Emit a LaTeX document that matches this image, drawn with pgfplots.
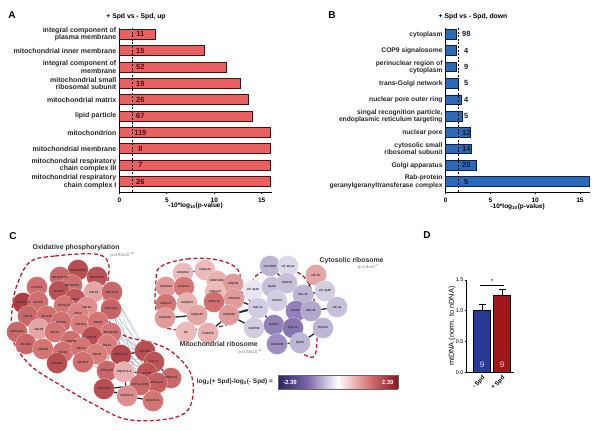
\documentclass[border=0pt]{standalone}
\usepackage{fontspec}
\setmainfont{Liberation Sans}
\usepackage{pgfplots}
\pgfplotsset{compat=1.18}
\usepackage{pgfplotstable}

\definecolor{redA}{RGB}{232,96,96}
\definecolor{edgeA}{RGB}{60,20,20}
\definecolor{numA}{RGB}{80,12,12}
\definecolor{blueB}{RGB}{42,106,184}
\definecolor{edgeB}{RGB}{14,32,60}
\definecolor{numB}{RGB}{20,25,45}
\definecolor{dBlue}{RGB}{40,58,148}
\definecolor{dRed}{RGB}{160,24,28}
\definecolor{cred}{RGB}{185,30,45}
\definecolor{fan}{RGB}{150,170,190}
\definecolor{navy}{RGB}{30,42,62}

\newcommand\labA{\fontsize{7}{7.3}\selectfont\bfseries}
\newcommand\labB{\fontsize{6.7}{7.3}\selectfont\bfseries}
\newcommand\tck{\fontsize{6.5}{7}\selectfont\bfseries}
\newcommand\num{\fontsize{7.5}{8}\selectfont\bfseries}
\newcommand\ttl{\fontsize{6.8}{8}\selectfont\bfseries}
\newcommand\pnl{\fontsize{10}{12}\selectfont\bfseries}

\pgfplotsset{colormap={net}{rgb255(0cm)=(45,35,95); rgb255(1cm)=(125,105,170); rgb255(2cm)=(255,255,255); rgb255(3cm)=(215,120,120); rgb255(4cm)=(140,20,30)}}

\pgfplotstableread{
x y v lab
78 270 1.7 ND-B14.5B
60 277 1.4 ND-B14.5A
97 277 1.65 ND-PDSW
37 287 1.3 CG7518
72 285 1.3 ND-SGDH
59 291 1.65 ND-B17
94 292 0.8 ND-19
112 292 1.4 ND-ACP
75 299 1.6 COX4
23 303 1.9 UQCR-C2
38 302 1.3 ND-B8
64 306 1.25 ATPsynf
87 307 1.0 ND-30
111 309 1.45 ATPsynG
28 316 1.4 ND-75
47 316 1.3 ND-13A
78 313 1.1 SdhC
61 322 1.3 COX5A
81 324 1.15 ND-B11
98 322 1.25 ND-20
17 332 1.4 ATPsynD
39 329 0.8 ND-49
55 332 1.25 ND-51
111 333 1.25 ND-MLRQ
71 341 1.3 COX5B
92 337 1.7 ND-42
107 345 1.15 ND-24
26 344 1.4 ND-B14
43 349 1.25 COX6B
63 352 1.3 ND-23
81 348 1.25 ND-18
97 354 1.15 ND-39
57 363 1.7 ND-B22
83 362 1.3 ND-B12
121 355 1.8 ATPsynB
145 351 1.7 ND-B15
154 362 1.65 Cyt-c1
107 371 1.4 ATPsynC
124 372 0.7 UQCR-6.4
147 373 1.65 CoVIII
171 378 1.4 UQCR-Q
157 383 1.5 ATPsynd
140 385 1.4 ATPsynCF6
104 389 1.7 ATPsynE
127 396 1.0 UQCR-14
153 401 1.25 UQCR-C1
183 273 0.6 mRpS31
205 270 0.6 mRpL23
217 281 0.7 mRpS18C
233 284 0.9 mRpS9
166 287 0.9 mRpS22
184 287 1.2 mRpS17
215 292 0.6 mRpL43
234 299 0.9 mRpS16
166 304 1.25 mRpL37
187 303 0.7 mRpS23
214 302 1.3 mRpL12
165 318 0.9 mRpS10
197 315 0.8 mRpL46
229 315 0.9 mRpS26
186 332 0.6 tko
208 333 0.7 CG4679
270 266 -0.6 CG15697
288 266 -0.3 eIF-2beta
316 275 0.8 eIF-5A
253 290 -0.2 eIF-3p40
272 287 -0.5 RpS9
287 283 -0.5 RpS18
303 295 -0.6 RpL35
325 291 -0.4 eIF-3p66
277 301 -0.4 RpS24
258 308 -0.4 RpL13
296 311 -1.0 RpS27
311 311 -0.7 RpL30
337 307 -0.5 eIF-4a
254 328 -0.4 CG9791
274 325 -1.0 RpS5a
293 328 -1.1 RpL31
323 328 -0.6 RpS12
277 344 -0.9 CG18596
300 343 -0.6 RpS8
}\netnodes

\begin{document}
\begin{tikzpicture}
\useasboundingbox (0pt,0pt) rectangle (600pt,431pt);

% ---------------- Panel A ----------------
\begin{axis}[
  at={(119.5pt,239pt)}, anchor=south west,
  scale only axis, width=152.6pt, height=164pt,
  xmin=0, xmax=16.1, ymin=0.615, ymax=10.63, y dir=reverse,
  axis x line*=bottom, axis y line*=left,
  axis line style={line width=0.9pt,-},
  xtick={0,5,10,15}, tick align=outside, major tick length=2.5pt,
  x tick style={line width=0.8pt,black},
  ytick={1,...,10}, y tick style={draw=none},
  yticklabels={{integral component of\\plasma membrane},{mitochondrial inner membrane},{integral component of\\membrane},{mitochondrial small\\ribosomal subunit},{mitochondrial matrix},{lipid particle},{mitochondrion},{mitochondrial membrane},{mitochondrial respiratory\\chain complex III},{mitochondrial respiratory\\chain complex I}},
  yticklabel style={align=right, font=\labA, text=black!85, inner sep=0.5pt},
  xticklabel style={font=\tck},
  /pgf/number format/assume math mode=true,
  clip=false,
]
\addplot[xbar, bar shift=0pt, bar width=10pt, fill=redA, draw=edgeA, line width=0.9pt]
  coordinates {(3.8,1) (8.95,2) (11.3,3) (12.8,4) (13.6,5) (14.05,6) (15.95,7) (15.95,8) (15.95,9) (15.95,10)};
\addplot[black, line width=0.6pt, dash pattern=on 2pt off 1.6pt] coordinates {(1.35,0.615) (1.35,10.63)};
\foreach \v/\n in {1/11,2/15,3/52,4/19,5/26,6/67,7/119,8/8,9/7,10/26}{
  \edef\tmp{\noexpand\node[font=\noexpand\num, text=numA] at (axis cs:2.2,\v) {\n};}\tmp
}
\end{axis}

% ---------------- Panel B ----------------
\begin{axis}[
  at={(445.7pt,239pt)}, anchor=south west,
  scale only axis, width=144.1pt, height=164pt,
  xmin=0, xmax=16.1, ymin=0.615, ymax=10.63, y dir=reverse,
  axis x line*=bottom, axis y line*=left,
  axis line style={line width=0.9pt,-},
  xtick={0,5,10,15}, tick align=outside, major tick length=2.5pt,
  x tick style={line width=0.8pt,black},
  ytick={1,...,10}, y tick style={draw=none},
  yticklabels={{cytoplasm},{COP9 signalosome},{perinuclear region of\\cytoplasm},{trans-Golgi network},{nuclear pore outer ring},{singal recognition particle,\\endoplasmic reticulum targeting},{nuclear pore},{cytosolic small\\ribosomal subunit},{Golgi apparatus},{Rab-protein\\geranylgeranyltransferase complex}},
  yticklabel style={align=right, font=\labB, text=black!85, inner sep=0.5pt},
  xticklabel style={font=\tck},
  /pgf/number format/assume math mode=true,
  clip=false,
]
\addplot[xbar, bar shift=0pt, bar width=9.7pt, fill=blueB, draw=edgeB, line width=0.9pt]
  coordinates {(1.2,1) (1.2,2) (1.2,3) (1.45,4) (1.75,5) (1.85,6) (2.8,7) (2.85,8) (3.45,9) (16.05,10)};
\addplot[black, line width=0.6pt, dash pattern=on 2pt off 1.6pt] coordinates {(1.4,0.615) (1.4,10.63)};
\foreach \v/\n in {1/98,2/4,3/9,4/5,5/4,6/5,7/12,8/14,9/20,10/5}{
  \edef\tmp{\noexpand\node[font=\noexpand\num, text=numB] at (axis cs:2.3,\v) {\n};}\tmp
}
\end{axis}

% ---------------- Panel C (network) ----------------
\begin{axis}[
  at={(0pt,6pt)}, anchor=south west,
  scale only axis, width=400pt, height=200pt,
  xmin=0, xmax=400, ymin=225, ymax=425, y dir=reverse,
  hide axis, clip=false,
  colormap name=net, point meta min=-2.39, point meta max=2.39,
  unbounded coords=jump,
]
% light fan edges
\addplot[fan, line width=0.25pt] coordinates {
(112,292)(121,355)(111,309)(154,362)(112,292)(124,372)(98,322)(145,351)(111,333)(107,371)(92,337)(147,373)(111,309)(140,385)(107,345)(121,355)(97,354)(154,362)(83,362)(124,372)(111,333)(140,385)(112,292)(145,351)(98,322)(107,371)(107,345)(147,373)(97,354)(121,355)(92,337)(154,362)(111,309)(124,372)(83,362)(140,385)(98,322)(147,373)(111,333)(121,355)(107,345)(145,351)(97,354)(107,371)(83,362)(147,373)(92,337)(140,385)(112,292)(107,371)(111,309)(147,373)(98,322)(124,372)(92,337)(121,355)(83,362)(145,351)(107,345)(124,372)(97,354)(140,385)(111,333)(154,362)(112,292)(147,373)
};
% dark edges
\addplot[navy, line width=1.3pt] coordinates {
(121,355)(145,351)(154,362)(147,373)(124,372)(121,355) (nan,nan)
(107,371)(124,372)(140,385)(157,383)(171,378)(147,373)(145,351) (nan,nan)
(104,389)(127,396)(153,401)(140,385)(104,389)(107,371)(121,355) (nan,nan)
(154,362)(171,378) (nan,nan) (124,372)(127,396) (nan,nan)
(78,270)(97,277) (nan,nan) (60,277)(59,291)(72,285)(75,299)(94,292) (nan,nan) (64,306)(47,316) (nan,nan) (55,332)(61,322) (nan,nan) (71,341)(81,348) (nan,nan) (57,363)(63,352) (nan,nan) (83,362)(97,354) (nan,nan) (92,337)(98,322) (nan,nan)
(183,273)(205,270) (nan,nan) (184,287)(166,287) (nan,nan) (166,304)(187,303)(197,315)(166,318) (nan,nan) (214,302)(197,315)(186,332) (nan,nan) (215,292)(233,284) (nan,nan) (214,302)(234,299) (nan,nan) (208,333)(229,315) (nan,nan) (187,303)(184,287) (nan,nan) (217,281)(215,292) (nan,nan)
(253,290)(234,299)(258,308)(229,315)(254,328) (nan,nan) (233,284)(253,290) (nan,nan) (234,299)(272,287) (nan,nan) (229,315)(277,301) (nan,nan) (233,284)(258,308) (nan,nan)
(270,266)(287,283)(272,287) (nan,nan) (287,283)(303,295)(325,291) (nan,nan) (277,301)(296,311)(311,311)(323,328)(300,343)(277,344) (nan,nan) (274,325)(293,328)(300,343) (nan,nan) (311,311)(337,307) (nan,nan) (258,308)(274,325) (nan,nan) (296,311)(293,328) (nan,nan) (288,266)(287,283) (nan,nan) (316,275)(303,295)
};
% nodes
\addplot[scatter, only marks, mark=*, mark size=10.5pt,
  point meta=\thisrow{v},
  scatter/use mapped color={draw=white, draw opacity=0.6, fill=mapped color, line width=0.3pt},
] table[x=x, y=y] {\netnodes};
% node labels
\addplot[only marks, mark=none, point meta=explicit symbolic,
  nodes near coords,
  nodes near coords style={anchor=center, inner sep=0pt, font=\fontsize{3}{3}\selectfont\bfseries, text=black!80},
] table[x=x, y=y, meta=lab] {\netnodes};
% cluster outlines
\draw[cred, line width=1.3pt, dash pattern=on 4pt off 2.5pt] plot[smooth cycle, tension=0.6] coordinates {(30,262) (55,256) (95,254) (108,262) (108,280) (104,300) (108,320) (125,336) (150,342) (172,352) (190,372) (193,395) (185,413) (160,420) (125,419) (95,405) (60,385) (30,365) (13,340) (12,310) (17,285)};
\draw[cred, line width=1.3pt, dash pattern=on 4pt off 2.5pt] plot[smooth cycle, tension=0.6] coordinates {(160,267) (187,259) (218,260) (238,270) (240,290) (236,310) (228,324) (200,329) (167,328) (156,310) (156,282)};
\draw[cred, line width=1.3pt, dash pattern=on 4pt off 2.5pt] plot[smooth cycle, tension=0.6] coordinates {(262,272) (285,268) (305,278) (314,300) (317,330) (315,355) (305,355) (290,343) (270,332) (255,322) (250,300) (252,282)};
\end{axis}

% colour bar
\begin{axis}[
  at={(278pt,42pt)}, anchor=south west,
  scale only axis, width=120pt, height=14pt,
  xmin=-2.39, xmax=2.39, ymin=0, ymax=1, view={0}{90},
  xtick=\empty, ytick=\empty, ztick=\empty,
  axis line style={line width=0.4pt, black!60},
  colormap name=net, point meta min=-2.39, point meta max=2.39,
]
\addplot3[surf, shader=interp, point meta=x] coordinates {
(-2.39,0,0) (-1.8,0,0) (-1.2,0,0) (-0.6,0,0) (0,0,0) (0.6,0,0) (1.2,0,0) (1.8,0,0) (2.39,0,0)

(-2.39,1,0) (-1.8,1,0) (-1.2,1,0) (-0.6,1,0) (0,1,0) (0.6,1,0) (1.2,1,0) (1.8,1,0) (2.39,1,0)
};
\end{axis}
\node[anchor=west, text=white, font=\fontsize{6}{7}\selectfont\bfseries] at (279.5pt,49pt) {-2.39};
\node[anchor=east, text=white, font=\fontsize{6}{7}\selectfont\bfseries] at (397pt,49pt) {2.39};
\node[anchor=east, font=\fontsize{6.5}{7}\selectfont\bfseries, text=black!85] at (276.5pt,49pt) {log\textsubscript{2}(+ Spd)-log\textsubscript{2}(- Spd) =};

% ---------------- Panel D ----------------
\begin{axis}[
  at={(466.7pt,58.7pt)}, anchor=south west,
  scale only axis, width=47.3pt, height=92.3pt,
  ymin=0, ymax=1.5, xmin=-0.765, xmax=1.6,
  axis x line*=bottom, axis y line*=left,
  axis line style={line width=0.8pt,-},
  ytick={0,0.5,1,1.5}, yticklabels={0.0,0.5,1.0,1.5},
  tick align=outside, major tick length=2pt,
  y tick style={line width=0.6pt, black},
  xtick={0,1}, xticklabels={-\kern1.6pt Spd,+\kern1.6pt Spd}, x tick style={draw=none},
  xticklabel style={rotate=45, anchor=north east, font=\fontsize{6}{7}\selectfont\bfseries, inner sep=0.5pt},
  yticklabel style={font=\fontsize{5.5}{6}\selectfont, inner sep=1pt},
  ylabel={mtDNA (norm. to nDNA)},
  ylabel style={font=\fontsize{7.3}{8}\selectfont, yshift=-4pt},
  clip=false,
]
\addplot[ybar, bar shift=0pt, bar width=17pt, fill=dBlue, draw=black, line width=0.6pt,
  error bars/.cd, y dir=plus, y explicit,
  error bar style={line width=0.8pt, black},
  error mark options={rotate=90, mark size=3.5pt, line width=0.8pt, black}]
  coordinates {(0,1.0) +- (0,0.1)};
\addplot[ybar, bar shift=0pt, bar width=17pt, fill=dRed, draw=black, line width=0.6pt,
  error bars/.cd, y dir=plus, y explicit,
  error bar style={line width=0.8pt, black},
  error mark options={rotate=90, mark size=3.5pt, line width=0.8pt, black}]
  coordinates {(1,1.25) +- (0,0.1)};
\addplot[black, line width=0.6pt] coordinates {(-0.1,1.42) (1.1,1.42)};
\node[font=\fontsize{6}{6}\selectfont] at (axis cs:0.5,1.47) {*};
\node[font=\fontsize{8}{9}\selectfont, text=blue!15] at (axis cs:0,0.13) {9};
\node[font=\fontsize{8}{9}\selectfont, text=red!15] at (axis cs:1,0.13) {9};
\end{axis}

% ---------------- Titles and texts ----------------
\node[font=\pnl] at (12pt,416pt) {A};
\node[font=\pnl] at (332pt,416pt) {B};
\node[font=\pnl] at (13pt,195.3pt) {C};
\node[font=\pnl] at (427pt,196pt) {D};
\node[font=\ttl] at (136pt,414pt) {+ Spd vs - Spd, up};
\node[font=\ttl] at (473pt,414pt) {+ Spd vs - Spd, down};
\node[font=\tck] at (195.6pt,225.5pt) {-10*log\textsubscript{10}(p-value)};
\node[font=\tck] at (517.7pt,224.5pt) {-10*log\textsubscript{10}(p-value)};

\node[anchor=west, font=\fontsize{6.9}{8}\selectfont\bfseries, text=black!80] at (29pt,183.5pt) {Oxidative phosphorylation};
\node[anchor=west, font=\fontsize{4}{5}\selectfont, text=black!55] at (107pt,176pt) {p=3.83x10\textsuperscript{−36}};
\node[anchor=west, font=\fontsize{6.9}{8}\selectfont\bfseries, text=black!80] at (176pt,86.7pt) {Mitochondrial ribosome};
\node[anchor=west, font=\fontsize{4}{5}\selectfont, text=black!55] at (235pt,79pt) {p=3.58x10\textsuperscript{−11}};
\node[anchor=west, font=\fontsize{6.9}{8}\selectfont\bfseries, text=black!80] at (316pt,170.3pt) {Cytosolic ribosome};
\node[anchor=east, font=\fontsize{4}{5}\selectfont, text=black!55] at (382pt,164pt) {p=1.9x10\textsuperscript{−5}};
\end{tikzpicture}
\end{document}
